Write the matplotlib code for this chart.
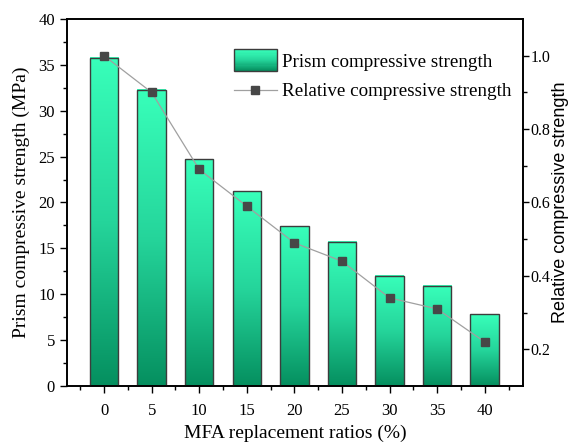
import numpy as np
import matplotlib.pyplot as plt
from matplotlib.patches import Rectangle
from matplotlib.legend_handler import HandlerBase
from matplotlib.colors import LinearSegmentedColormap

plt.rcParams['font.family'] = ['Liberation Serif', 'DejaVu Serif']

ratios = ['0', '5', '10', '15', '20', '25', '30', '35', '40']
prism = [35.8, 32.3, 24.7, 21.2, 17.4, 15.7, 12.0, 10.9, 7.8]
relative = [1.0, 0.90, 0.69, 0.59, 0.49, 0.44, 0.34, 0.31, 0.22]

cmap = LinearSegmentedColormap.from_list(
    'grad', [(0, '#058f5f'), (0.5, '#25d59b'), (1, '#38ffba')])
edge = '#3c3c3c'


class GradientHandler(HandlerBase):
    # draws a taller gradient box centred on the legend row
    def create_artists(self, legend, orig, xd, yd, w, h, fs, trans):
        arts = []
        n = 20
        bh = 15.8
        y0 = yd + h / 2 - bh / 2
        for i in range(n):
            r = Rectangle((xd, y0 + bh * i / n), w, bh / n + 0.05,
                          facecolor=cmap(i / (n - 1)), edgecolor='none',
                          transform=trans)
            arts.append(r)
        arts.append(Rectangle((xd, y0), w, bh, facecolor='none',
                              edgecolor=edge, lw=1, transform=trans))
        return arts


fig = plt.figure(figsize=(5.72, 4.45), dpi=100)
ax = fig.add_axes([0.117, 0.1326, 0.797, 0.8247])

x = np.arange(len(ratios))
width = 0.6
grad = np.linspace(0, 1, 256).reshape(-1, 1)
bars = ax.bar(x, prism, width, facecolor='none', edgecolor=edge, lw=1, zorder=3)
for b in bars:
    x0, h = b.get_x(), b.get_height()
    ax.imshow(grad, extent=[x0, x0 + width, 0, h], origin='lower',
              aspect='auto', cmap=cmap, zorder=2)

ax.set_xlim(-0.78, 8.8)
ax.set_ylim(0, 40)
ax.set_xticks(x)
ax.set_xticklabels(ratios)
ax.set_xticks(np.arange(-0.5, 9.0, 1), minor=True)
ax.set_yticks(np.arange(0, 41, 5))
ax.set_yticks(np.arange(2.5, 40, 5), minor=True)
ax.tick_params(which='both', direction='out', labelsize=12, width=1)
ax.tick_params(which='major', length=5)
ax.tick_params(which='minor', length=3)
ax.tick_params(axis='x', pad=7)
ax.set_xlabel('MFA replacement ratios (%)', fontsize=14, labelpad=4)
ax.set_ylabel('Prism compressive strength (MPa)', fontsize=14, labelpad=6)

ax2 = ax.twinx()
ax2.plot(x, relative, color='#a0a0a0', lw=0.9, marker='s', markersize=6,
         markerfacecolor='#474747', markeredgecolor='#474747', zorder=5)
ax2.set_ylim(0.1, 1.1)
ax2.set_yticks([0.2, 0.4, 0.6, 0.8, 1.0])
ax2.set_yticks([0.3, 0.5, 0.7, 0.9], minor=True)
ax2.tick_params(which='both', direction='out', labelsize=11.5, width=1, pad=1.5)
ax2.tick_params(which='major', length=4)
ax2.tick_params(which='minor', length=3)
ax2.set_ylabel('Relative compressive strength', fontsize=13,
               family=['Liberation Sans', 'DejaVu Sans'], labelpad=1)

for a in (ax, ax2):
    for s in a.spines.values():
        s.set_linewidth(1.2)

line = ax2.lines[0]
ax2.legend([bars, line],
           ['Prism compressive strength', 'Relative compressive strength'],
           handler_map={type(bars): GradientHandler()},
           loc='upper right', bbox_to_anchor=(1.013, 0.953), frameon=False,
           fontsize=13.7, handlelength=2.25, handletextpad=0.3,
           labelspacing=0.65)

fig.savefig('out.png', dpi=100)
